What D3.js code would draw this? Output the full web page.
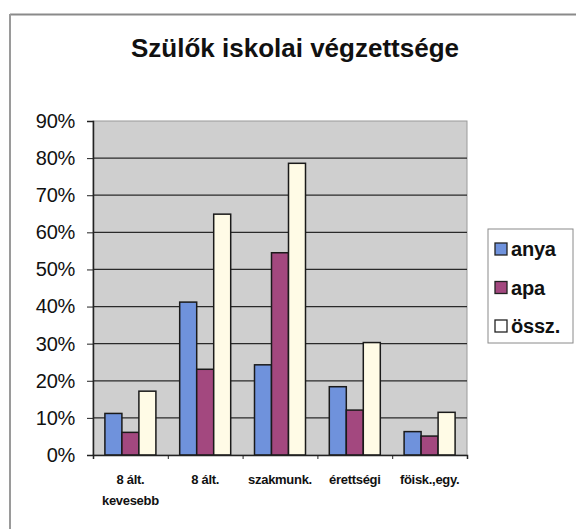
<!DOCTYPE html>
<html><head><meta charset="utf-8">
<script src="https://cdn.jsdelivr.net/npm/d3@7"></script>
<style>
html,body{margin:0;padding:0;background:#fff;}
svg{display:block;font-family:"Liberation Sans",Arial,sans-serif;}
</style></head>
<body>
<svg id="chart" width="576" height="529"></svg>
<script>
const title = "Szülők iskolai végzettsége";
const categories = ["8 ált.\nkevesebb", "8 ált.", "szakmunk.", "érettségi", "föisk.,egy."];
const seriesNames = ["anya", "apa", "össz."];
const anya = [11.2, 41.2, 24.3, 18.4, 6.3];
const apa = [6.1, 23.1, 54.5, 12.1, 5.1];
const ossz = [17.2, 64.9, 78.6, 30.3, 11.5];
const yTicks = [0, 10, 20, 30, 40, 50, 60, 70, 80, 90];
const colors = ["#6f92dc", "#a3487f", "#fffbe6"];

const series = [anya, apa, ossz];
const svg = d3.select("#chart");

// outer frame
svg.append("line").attr("x1", 10).attr("x2", 576).attr("y1", 14.5).attr("y2", 14.5).attr("stroke", "#8a8a8a").attr("stroke-width", 2);
svg.append("line").attr("x1", 10).attr("x2", 10).attr("y1", 14).attr("y2", 529).attr("stroke", "#9a9a9a").attr("stroke-width", 2);

svg.append("text").attr("x", 295).attr("y", 57).attr("text-anchor", "middle")
  .attr("font-size", 26).attr("font-weight", "bold").attr("fill", "#111").text(title);

const m = {left: 93, right: 467, top: 121, bottom: 455};
const x = d3.scaleBand().domain(d3.range(categories.length)).range([m.left, m.right]).paddingInner(0).paddingOuter(0);
const x1 = d3.scaleBand().domain(d3.range(seriesNames.length)).range([0, x.bandwidth()]).paddingInner(0).paddingOuter(0.7);
const y = d3.scaleLinear().domain([0, 90]).range([m.bottom, m.top]);

// plot background
svg.append("rect").attr("x", m.left).attr("y", m.top).attr("width", m.right - m.left).attr("height", m.bottom - m.top)
  .attr("fill", "#cfcfcf").attr("stroke", "#9a9a9a").attr("stroke-width", 1);

// gridlines
svg.append("g").selectAll("line").data(yTicks.filter(d => d > 0 && d < 90)).join("line")
  .attr("x1", m.left).attr("x2", m.right).attr("y1", d => y(d)).attr("y2", d => y(d))
  .attr("stroke", "#2a2a2a").attr("stroke-width", 1.2);

// y axis
const yAxis = d3.axisLeft(y).tickValues(yTicks).tickFormat(d => d + "%").tickSize(6).tickPadding(12);
const gy = svg.append("g").attr("transform", `translate(${m.left},0)`).call(yAxis);
gy.select(".domain").attr("stroke", "#222").attr("stroke-width", 1.5);
gy.selectAll(".tick line").attr("stroke", "#222");
gy.selectAll(".tick text").attr("font-size", 20).attr("fill", "#111").attr("letter-spacing", -0.3)
  .attr("font-family", "'Liberation Sans',Arial,sans-serif");

// bars
const groups = svg.append("g").selectAll("g").data(categories.map((c, i) => i)).join("g")
  .attr("transform", i => `translate(${x(i)},0)`);
groups.selectAll("rect").data(i => series.map((s, k) => ({k, v: s[i]}))).join("rect")
  .attr("x", d => x1(d.k)).attr("width", x1.bandwidth())
  .attr("y", d => y(d.v)).attr("height", d => y(0) - y(d.v))
  .attr("fill", d => colors[d.k]).attr("stroke", "#1a1a1a").attr("stroke-width", 1.5);

// x axis
const xAxisScale = d3.scaleLinear().domain([0, categories.length]).range([m.left, m.right]);
const gx = svg.append("g").attr("transform", `translate(0,${m.bottom})`)
  .call(d3.axisBottom(xAxisScale).tickValues(d3.range(categories.length + 1)).tickSize(4).tickFormat(""));
gx.select(".domain").attr("stroke", "#222").attr("stroke-width", 1.5);
gx.selectAll(".tick line").attr("stroke", "#222");

// category labels
const lab = svg.append("g").selectAll("text").data(categories).join("text")
  .attr("x", (d, i) => x(i) + x.bandwidth() / 2).attr("y", 484)
  .attr("text-anchor", "middle").attr("font-size", 13).attr("font-weight", "bold").attr("fill", "#111")
  .attr("letter-spacing", -0.3);
lab.each(function(d) {
  const lines = d.split("\n");
  d3.select(this).selectAll("tspan").data(lines).join("tspan")
    .attr("x", d3.select(this).attr("x")).attr("dy", (l, j) => j === 0 ? 0 : 21).text(l => l);
});

// legend
const lg = svg.append("g");
lg.append("rect").attr("x", 488).attr("y", 229).attr("width", 85).attr("height", 114)
  .attr("fill", "#fff").attr("stroke", "#8a8a8a").attr("stroke-width", 1);
const items = lg.selectAll("g").data(seriesNames).join("g")
  .attr("transform", (d, i) => `translate(495,${249 + i * 38.5})`);
items.append("rect").attr("x", 0).attr("y", -6).attr("width", 12).attr("height", 12)
  .attr("fill", (d, i) => colors[i] === "#fffbe6" ? "#ffffff" : colors[i]).attr("stroke", "#222").attr("stroke-width", 1.3);
items.append("text").attr("x", 16).attr("y", 7).attr("font-size", 20).attr("font-weight", "bold").attr("fill", "#111")
  .attr("letter-spacing", -0.2).text(d => d);
</script>
</body></html>
